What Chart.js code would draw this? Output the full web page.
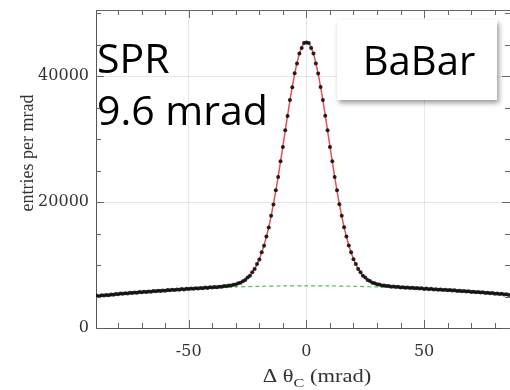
<!DOCTYPE html>
<html>
<head>
<meta charset="utf-8">
<script src="https://cdn.jsdelivr.net/npm/chart.js@4.4.0/dist/chart.umd.min.js"></script>
<style>
  html, body { margin: 0; padding: 0; background: #fff; }
  canvas { display: block; }
</style>
</head>
<body>
<canvas id="sprChart" width="510" height="390"></canvas>
<script>
// histogram: 1 mrad bins, first bin centre at -90 mrad
const binStart = -90;
const binWidth = 1;
const entries = [
  // -90 .. -37
  4990, 5110, 5060, 5190, 5150, 5260, 5210, 5330, 5290, 5380,
  5350, 5460, 5420, 5530, 5480, 5590, 5540, 5650, 5600, 5700,
  5660, 5770, 5720, 5810, 5770, 5870, 5830, 5930, 5880, 5970,
  5930, 6040, 5990, 6080, 6030, 6130, 6090, 6180, 6130, 6230,
  6180, 6270, 6230, 6330, 6280, 6370, 6320, 6420, 6370, 6460,
  6420, 6510, 6480, 6560,
  // -36 .. 36
  6550, 6650, 6630, 6740, 6750, 6880, 6920, 7100, 7190, 7440,
  7620, 8000, 8300, 8860, 9350, 10160, 10890, 12010, 13080, 14550,
  15970, 17840, 19630, 21870, 23960, 26490, 28750, 31410, 33680, 36220,
  38250, 40440, 42000, 43580, 44480, 45260, 45330, 45270, 44480, 43590,
  42010, 40430, 38260, 36210, 33700, 31400, 28760, 26480, 23970, 21860,
  19640, 17830, 15980, 14550, 13090, 12010, 10900, 10150, 9360, 8860,
  8310, 8000, 7630, 7450, 7200, 7110, 6930, 6900, 6760, 6760,
  6650, 6670, 6570,
  // 37 .. 86
  6590, 6500, 6540, 6450, 6490, 6400, 6440, 6350, 6400, 6300,
  6350, 6270, 6310, 6210, 6260, 6170, 6220, 6130, 6170, 6080,
  6120, 6040, 6080, 5990, 6030, 5940, 5990, 5890, 5930, 5840,
  5880, 5790, 5830, 5730, 5770, 5680, 5720, 5620, 5660, 5570,
  5600, 5510, 5550, 5450, 5480, 5390, 5420, 5320, 5360, 5260
];

// fit (red), sampled every 2 mrad from -90
const fitStart = -90;
const fitStep = 2;
const fitValues = [
  5040, 5112, 5184, 5254, 5322, 5388, 5453, 5516, 5577, 5637,
  5696, 5752, 5807, 5860, 5912, 5969, 6019, 6069, 6118, 6166,
  6214, 6262, 6308, 6356, 6404, 6453, 6503, 6580, 6660, 6770,
  6950, 7220, 7650, 8340, 9390, 10940, 13130, 16030, 19700, 24040,
  28840, 33770, 38340, 42090, 44550, 45400, 44550, 42090, 38340, 33770,
  28840, 24040, 19700, 16030, 13140, 10950, 9400, 8350, 7660, 7230,
  6960, 6790, 6680, 6600, 6535, 6477, 6431, 6385, 6340, 6296,
  6251, 6206, 6162, 6116, 6070, 6023, 5975, 5925, 5872, 5821,
  5769, 5715, 5660, 5603, 5544, 5484, 5422, 5359, 5295
];

// background component (green dashed)
const bgX      = [-90, -80, -70, -60, -50, -40, -30, -20, -10, 0, 10, 20, 30, 40, 50, 60, 70, 80, 86];
const bgValues = [5040, 5388, 5696, 5962, 6188, 6372, 6516, 6618, 6680, 6700, 6681, 6624, 6529, 6396, 6225, 6016, 5769, 5484, 5295];

// axis ticks
const xTicks = [-80, -70, -60, -50, -40, -30, -20, -10, 0, 10, 20, 30, 40, 50, 60, 70, 80];
const yTicks = [0, 5000, 10000, 15000, 20000, 25000, 30000, 35000, 40000, 45000, 50000];
const xLabelled = [-50, 0, 50];
const yLabelled = [0, 20000, 40000];

const serif = "'Liberation Serif', 'DejaVu Serif', serif";
const wideSerif = "'DejaVu Serif', serif";
const sans = "'Open Sans', 'Noto Sans', sans-serif";

const points = entries.map((v, i) => ({ x: binStart + i * binWidth, y: v }));
const fitPts = fitValues.map((v, i) => ({ x: fitStart + i * fitStep, y: v }));
const bgPts  = bgValues.map((v, i) => ({ x: bgX[i], y: v }));

function noPad(s) {
  s.paddingTop = 0; s.paddingBottom = 0; s.paddingLeft = 0; s.paddingRight = 0;
}

// frame, inward ticks, titles and the text overlays
const decor = {
  id: 'decor',
  afterDatasetsDraw(chart) {
    const { ctx, chartArea: a, scales } = chart;
    const x = scales.x, y = scales.y;
    ctx.save();
    ctx.strokeStyle = '#666';
    ctx.lineWidth = 1;
    ctx.beginPath();
    ctx.moveTo(a.left, a.top + 0.5);
    ctx.lineTo(a.right, a.top + 0.5);
    for (const t of x.ticks) {
      const px = Math.round(x.getPixelForValue(t.value)) + 0.5;
      const len = xLabelled.includes(t.value) ? 8 : 5;
      ctx.moveTo(px, a.bottom); ctx.lineTo(px, a.bottom - len);
      ctx.moveTo(px, a.top);    ctx.lineTo(px, a.top + len);
    }
    for (const t of y.ticks) {
      const py = Math.round(y.getPixelForValue(t.value)) + 0.5;
      const len = yLabelled.includes(t.value) ? 8 : 5;
      ctx.moveTo(a.left, py);  ctx.lineTo(a.left + len, py);
      ctx.moveTo(a.right, py); ctx.lineTo(a.right - len, py);
    }
    ctx.stroke();
    ctx.restore();
  },
  afterDraw(chart) {
    const ctx = chart.ctx;
    ctx.save();
    ctx.fillStyle = '#333';

    // x title with subscript C, a bit stretched like the scan
    const big = '18px ' + serif, small = '13px ' + serif;
    ctx.font = big;
    const w1 = ctx.measureText('\u0394 \u03B8').width;
    const w3 = ctx.measureText(' (mrad)').width;
    ctx.font = small;
    const w2 = ctx.measureText('C').width;
    const stretch = 1.25;
    ctx.translate(317 - stretch * (w1 + w2 + w3) / 2, 0);
    ctx.scale(stretch, 1);
    let sx = 0;
    ctx.textBaseline = 'alphabetic';
    ctx.font = big;   ctx.fillText('\u0394 \u03B8', sx, 382); sx += w1;
    ctx.font = small; ctx.fillText('C', sx, 387); sx += w2;
    ctx.font = big;   ctx.fillText(' (mrad)', sx, 382);
    ctx.restore();

    // y title
    ctx.save();
    ctx.fillStyle = '#333';
    ctx.translate(33, 153);
    ctx.rotate(-Math.PI / 2);
    ctx.font = big;
    ctx.textAlign = 'center';
    ctx.fillText('entries per mrad', 0, 0);
    ctx.restore();

    // BaBar box
    ctx.save();
    ctx.shadowColor = 'rgba(0,0,0,0.4)';
    ctx.shadowBlur = 5;
    ctx.shadowOffsetX = 2;
    ctx.shadowOffsetY = 3;
    ctx.fillStyle = '#fff';
    ctx.fillRect(337, 20, 160, 80);
    ctx.restore();

    ctx.save();
    ctx.fillStyle = '#000';
    ctx.font = '40px ' + sans;
    ctx.textBaseline = 'alphabetic';
    ctx.textAlign = 'center';
    ctx.fillText('BaBar', 419, 75);
    ctx.textAlign = 'left';
    ctx.font = '41px ' + sans;
    ctx.fillText('SPR', 97, 73);
    ctx.fillText('9.6 mrad', 97, 125);
    ctx.restore();
  }
};

const chart = new Chart(document.getElementById('sprChart').getContext('2d'), {
  type: 'scatter',
  data: {
    datasets: [{
      label: 'data',
      data: points,
      backgroundColor: 'rgba(15,15,15,0.9)',
      borderColor: 'rgba(15,15,15,0.9)',
      pointRadius: 2,
      pointBorderWidth: 0,
      showLine: false,
      order: 1
    }, {
      label: 'fit',
      data: fitPts,
      borderColor: 'rgba(225,50,50,0.85)',
      borderWidth: 1.5,
      pointRadius: 0,
      showLine: true,
      cubicInterpolationMode: 'monotone',
      order: 2
    }, {
      label: 'background',
      data: bgPts,
      borderColor: 'rgba(60,190,60,0.9)',
      borderWidth: 1.2,
      borderDash: [4, 3],
      pointRadius: 0,
      showLine: true,
      tension: 0.3,
      order: 3
    }]
  },
  options: {
    responsive: false,
    animation: false,
    layout: { autoPadding: false, padding: { top: 10, left: 0, right: 0, bottom: 0 } },
    plugins: { legend: { display: false }, tooltip: { enabled: false } },
    scales: {
      x: {
        type: 'linear',
        min: -89.4,
        max: 86.5,
        afterBuildTicks: s => { s.ticks = xTicks.map(v => ({ value: v })); },
        afterFit: s => { s.height = 62; noPad(s); },
        border: { color: '#555', width: 1 },
        grid: {
          drawTicks: false,
          color: c => (c.tick && xLabelled.includes(c.tick.value)) ? 'rgba(0,0,0,0.09)' : 'rgba(0,0,0,0)'
        },
        ticks: {
          autoSkip: false,
          maxRotation: 0,
          padding: 14,
          color: '#333',
          font: { family: wideSerif, size: 16 },
          callback: v => xLabelled.includes(v) ? String(v) : ''
        }
      },
      y: {
        type: 'linear',
        min: 0,
        max: 50500,
        afterBuildTicks: s => { s.ticks = yTicks.map(v => ({ value: v })); },
        afterFit: s => { s.width = 96; noPad(s); },
        border: { color: '#555', width: 1 },
        grid: {
          drawTicks: false,
          color: c => (c.tick && c.tick.value > 0 && yLabelled.includes(c.tick.value)) ? 'rgba(0,0,0,0.09)' : 'rgba(0,0,0,0)'
        },
        ticks: {
          autoSkip: false,
          padding: 7,
          color: '#333',
          font: { family: wideSerif, size: 16 },
          callback: v => yLabelled.includes(v) ? String(v) : ''
        }
      }
    }
  },
  plugins: [decor]
});
</script>
</body>
</html>
